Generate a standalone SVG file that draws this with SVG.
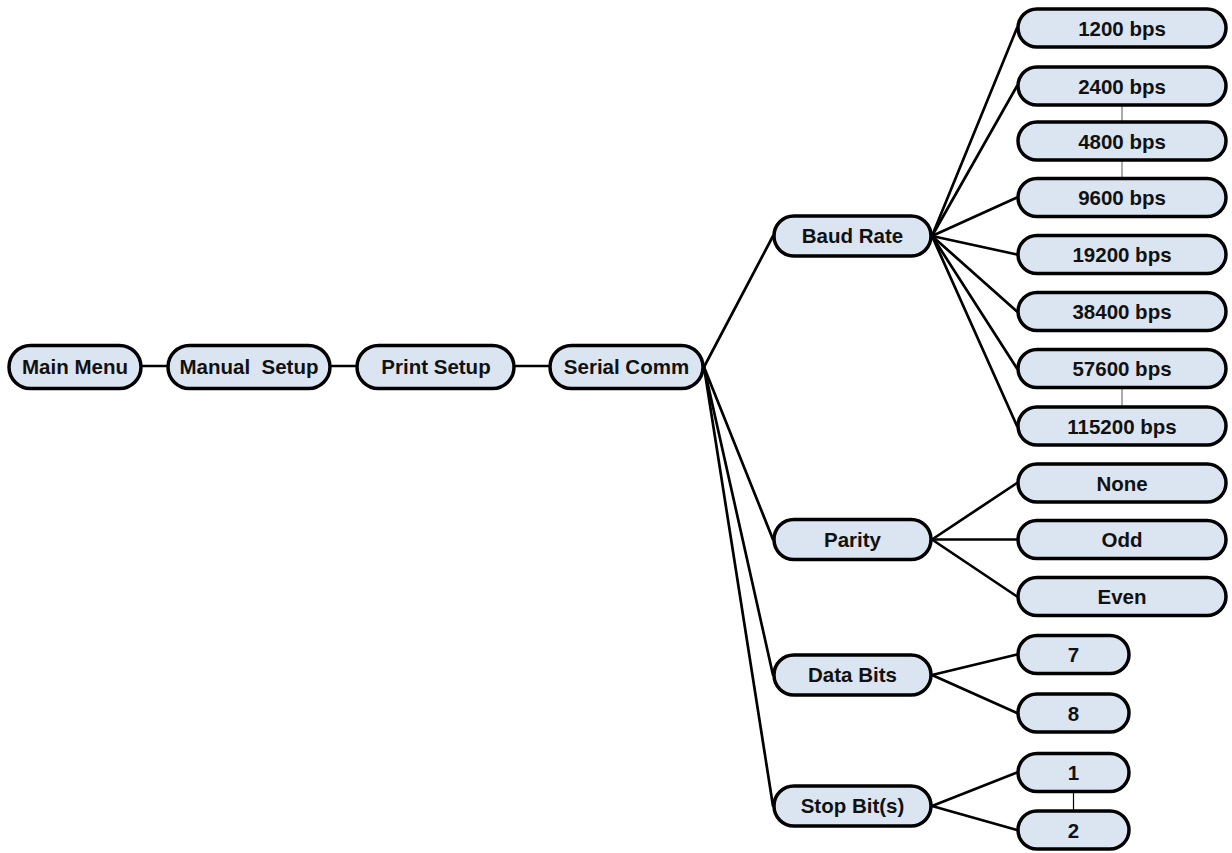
<svg xmlns="http://www.w3.org/2000/svg" width="1232" height="853" viewBox="0 0 1232 853">
<style>
.box{fill:#dbe5f1;stroke:#000;stroke-width:3.5}
.t{font-family:"Liberation Sans",Arial,sans-serif;font-weight:bold;font-size:20.5px;fill:#111;text-anchor:middle}
.c{stroke:#000;stroke-width:2.7;fill:none;stroke-linecap:round}
.g{stroke:#7f7f7f;stroke-width:1.3;fill:none}
.k{stroke:#000;stroke-width:1.2;fill:none}
</style>
<rect width="1232" height="853" fill="#fff"/>
<g id="connectors">
<line class="c" x1="143" y1="366" x2="166" y2="366"/>
<line class="c" x1="332" y1="366" x2="355" y2="366"/>
<line class="c" x1="516" y1="366" x2="548" y2="366"/>
<line class="c" x1="704" y1="367" x2="773" y2="236"/>
<line class="c" x1="704" y1="367" x2="773" y2="539.5"/>
<line class="c" x1="704" y1="367" x2="773" y2="675"/>
<line class="c" x1="704" y1="367" x2="773" y2="806"/>
<line class="c" x1="932" y1="236" x2="1017" y2="28"/>
<line class="c" x1="932" y1="236" x2="1017" y2="86"/>
<line class="c" x1="932" y1="236" x2="1017" y2="197.5"/>
<line class="c" x1="932" y1="236" x2="1017" y2="254.5"/>
<line class="c" x1="932" y1="236" x2="1017" y2="311.5"/>
<line class="c" x1="932" y1="236" x2="1017" y2="368.5"/>
<line class="c" x1="932" y1="236" x2="1017" y2="426"/>
<line class="c" x1="932" y1="539.5" x2="1017" y2="483"/>
<line class="c" x1="932" y1="539.5" x2="1017" y2="539.5"/>
<line class="c" x1="932" y1="539.5" x2="1017" y2="596.5"/>
<line class="c" x1="932" y1="675" x2="1017" y2="654.5"/>
<line class="c" x1="932" y1="675" x2="1017" y2="713"/>
<line class="c" x1="932" y1="806" x2="1017" y2="772.5"/>
<line class="c" x1="932" y1="806" x2="1017" y2="830"/>
<line class="g" x1="1122" y1="105" x2="1122" y2="180"/>
<line class="g" x1="1122" y1="387" x2="1122" y2="408"/>
<line class="k" x1="1073.5" y1="791" x2="1073.5" y2="812"/>
</g>
<g id="main-menu"><rect class="box" x="9" y="345.5" width="132" height="43" rx="21.5"/><text class="t" x="75" y="374">Main Menu</text></g>
<g id="manual-setup"><rect class="box" x="168" y="345.5" width="162" height="43" rx="21.5"/><text class="t" x="249" y="374" xml:space="preserve">Manual  Setup</text></g>
<g id="print-setup"><rect class="box" x="357" y="345.5" width="157" height="43" rx="21.5"/><text class="t" x="436" y="374">Print Setup</text></g>
<g id="serial-comm"><rect class="box" x="550" y="345.5" width="153" height="43" rx="21.5"/><text class="t" x="626.5" y="374">Serial Comm</text></g>
<g id="baud-rate"><rect class="box" x="774" y="216" width="157" height="40" rx="20"/><text class="t" x="852.5" y="243">Baud Rate</text></g>
<g id="parity"><rect class="box" x="774" y="519.5" width="157" height="40" rx="20"/><text class="t" x="852.5" y="546.5">Parity</text></g>
<g id="data-bits"><rect class="box" x="774" y="655" width="157" height="40" rx="20"/><text class="t" x="852.5" y="682">Data Bits</text></g>
<g id="stop-bits"><rect class="box" x="774" y="786" width="157" height="40" rx="20"/><text class="t" x="852.5" y="813">Stop Bit(s)</text></g>
<g id="b1200"><rect class="box" x="1018" y="9" width="208" height="38" rx="19"/><text class="t" x="1122" y="35.5">1200 bps</text></g>
<g id="b2400"><rect class="box" x="1018" y="67" width="208" height="38" rx="19"/><text class="t" x="1122" y="93.5">2400 bps</text></g>
<g id="b4800"><rect class="box" x="1018" y="122" width="208" height="38" rx="19"/><text class="t" x="1122" y="148.5">4800 bps</text></g>
<g id="b9600"><rect class="box" x="1018" y="178.5" width="208" height="38" rx="19"/><text class="t" x="1122" y="205">9600 bps</text></g>
<g id="b19200"><rect class="box" x="1018" y="235.5" width="208" height="38" rx="19"/><text class="t" x="1122" y="262">19200 bps</text></g>
<g id="b38400"><rect class="box" x="1018" y="292.5" width="208" height="38" rx="19"/><text class="t" x="1122" y="319">38400 bps</text></g>
<g id="b57600"><rect class="box" x="1018" y="349.5" width="208" height="38" rx="19"/><text class="t" x="1122" y="376">57600 bps</text></g>
<g id="b115200"><rect class="box" x="1018" y="407" width="208" height="38" rx="19"/><text class="t" x="1122" y="433.5">115200 bps</text></g>
<g id="none"><rect class="box" x="1018" y="464" width="208" height="38" rx="19"/><text class="t" x="1122" y="490.5">None</text></g>
<g id="odd"><rect class="box" x="1018" y="520.5" width="208" height="38" rx="19"/><text class="t" x="1122" y="547">Odd</text></g>
<g id="even"><rect class="box" x="1018" y="577.5" width="208" height="38" rx="19"/><text class="t" x="1122" y="604">Even</text></g>
<g id="d7"><rect class="box" x="1018" y="635.5" width="111" height="38" rx="19"/><text class="t" x="1073.5" y="662">7</text></g>
<g id="d8"><rect class="box" x="1018" y="694" width="111" height="38" rx="19"/><text class="t" x="1073.5" y="720.5">8</text></g>
<g id="s1"><rect class="box" x="1018" y="753.5" width="111" height="38" rx="19"/><text class="t" x="1073.5" y="780">1</text></g>
<g id="s2"><rect class="box" x="1018" y="811" width="111" height="38" rx="19"/><text class="t" x="1073.5" y="837.5">2</text></g>
</svg>
